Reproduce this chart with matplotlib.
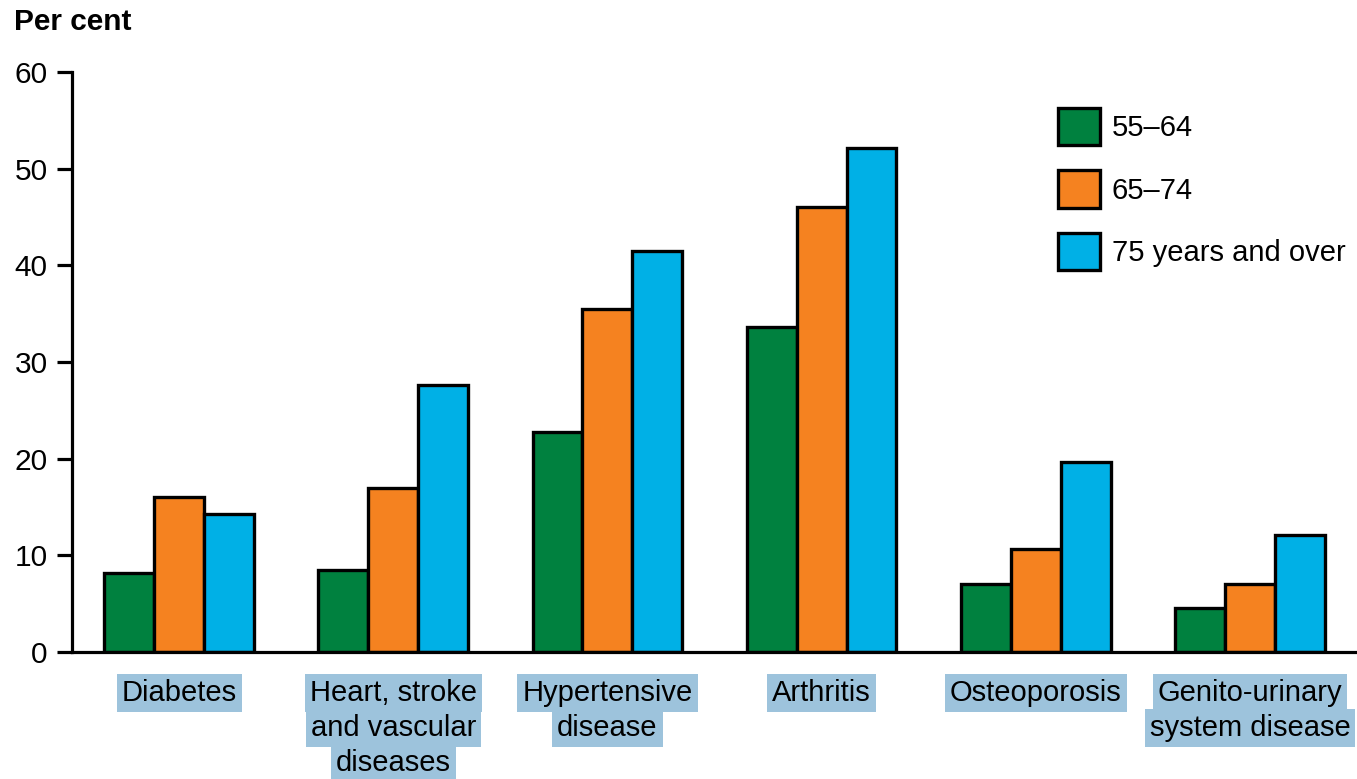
import numpy as np
from matplotlib import pyplot as plt

plt.rcParams['font.family'] = ['Liberation Sans', 'DejaVu Sans']

categories = ['Diabetes', 'Heart, stroke\nand vascular\ndiseases', 'Hypertensive\ndisease',
              'Arthritis', 'Osteoporosis', 'Genito-urinary\nsystem disease']
series_names = ['55\u201364', '65\u201374', '75 years and over']
age_55_64 = [8.2, 8.5, 22.8, 33.6, 7.0, 4.6]
age_65_74 = [16.0, 17.0, 35.5, 46.0, 10.7, 7.0]
age_75_over = [14.3, 27.6, 41.5, 52.1, 19.7, 12.1]
colors = ['#00813F', '#F58220', '#00B0E6']
y_ticks = [0, 10, 20, 30, 40, 50, 60]

fig = plt.figure(figsize=(13.57, 7.79), dpi=100)
ax = fig.add_axes([72 / 1357, 1 - 652 / 779, 1 - 72 / 1357, 580 / 779])

x = np.arange(len(categories))
width = 0.233
for i, (vals, name) in enumerate(zip([age_55_64, age_65_74, age_75_over], series_names)):
    ax.bar(x + (i - 1) * width, vals, width, color=colors[i], edgecolor='black',
           linewidth=2.4, label=name, zorder=2)

ax.set_xlim(-0.5, len(categories) - 0.5)
ax.set_ylim(0, 60)
ax.set_yticks(y_ticks)
ax.set_xticks([])
ax.tick_params(axis='y', direction='out', length=11, width=2.3, pad=6.5, labelsize=21.5)
for s in ['top', 'right']:
    ax.spines[s].set_visible(False)
for s in ['left', 'bottom']:
    ax.spines[s].set_linewidth(2.3)
ax.spines['bottom'].set_zorder(3)

# category labels, highlighted line by line
trans = ax.get_xaxis_transform()
for xi, cat in zip(x, categories):
    for j, line in enumerate(cat.split('\n')):
        ax.text(xi, -0.071 - j * 0.0605, line, transform=trans, ha='center', va='center',
                fontsize=21, clip_on=False,
                bbox=dict(boxstyle='square,pad=0.17', fc='#9DC3DC', ec='none'))

fig.text(14 / 1357, 1 - 22 / 779, 'Per cent', fontsize=21.5, fontweight='bold', va='center')

ax.legend(loc='upper left', bbox_to_anchor=(1058 / 1357, 1 - 108 / 779),
          bbox_transform=fig.transFigure, frameon=False, fontsize=21,
          handlelength=1.45, handleheight=1.6, handletextpad=0.4,
          labelspacing=0.85, borderpad=0, borderaxespad=0)

fig.savefig('out.png', dpi=100)
